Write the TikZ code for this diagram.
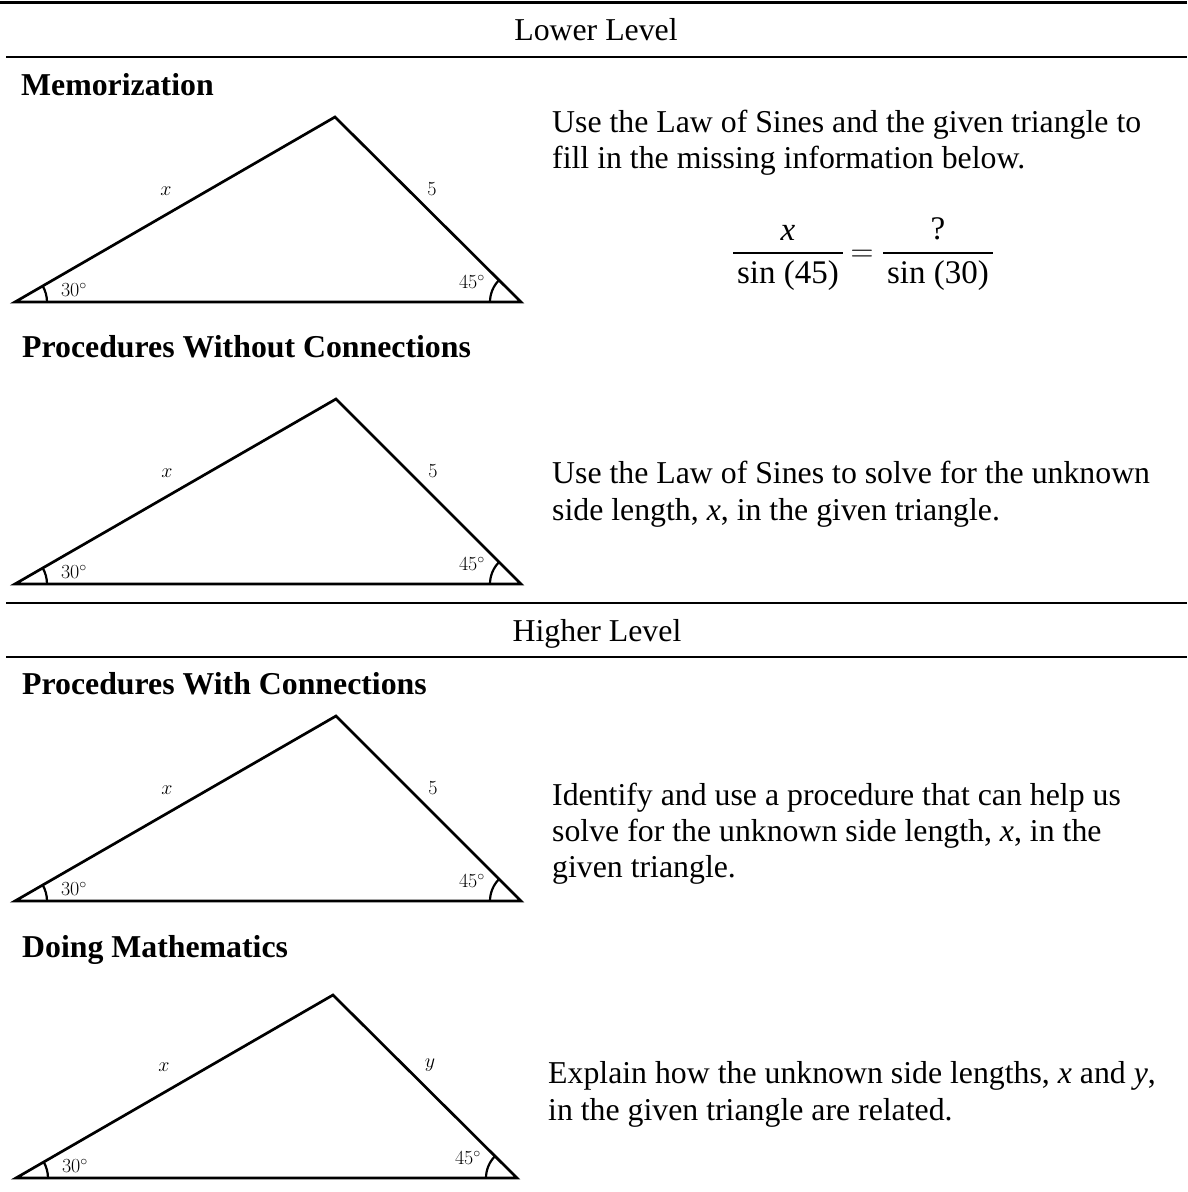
\RequirePackage{fix-cm}
\documentclass[tikz,border=0pt]{standalone}
\usepackage[no-math]{fontspec}
\setmainfont{Liberation Serif}
\usetikzlibrary{calc}

\newcommand{\bodysize}{\fontsize{31.8}{36.5}\selectfont}
\newcommand{\labelsize}{\fontsize{20}{24}\selectfont}
\newcommand{\mvar}[1]{\textit{#1}}

\tikzset{
  rule/.style={line width=2.5pt},
  side/.style={line width=2.7pt, line join=miter},
  anglearc/.style={line width=2.2pt},
  heading/.style={anchor=base west, inner sep=0pt, font=\bodysize\bfseries},
  level/.style={anchor=base, inner sep=0pt, font=\bodysize},
  prompt/.style={anchor=base west, inner sep=0pt, font=\bodysize},
  measure/.style={inner sep=0pt, font=\labelsize},
  fracpart/.style={anchor=base, inner sep=0pt, font=\fontsize{33}{38}\selectfont},
  fracbar/.style={line width=2pt},
}

% #1 name, #2 left x, #3 right x, #4 apex x, #5 apex y, #6 base y, #7 right-side label
\newcommand{\trianglefig}[7]{%
  \coordinate (#1L) at (#2,#6);
  \coordinate (#1R) at (#3,#6);
  \coordinate (#1A) at (#4,#5);
  \draw[side] (#1L) -- (#1R) -- (#1A) -- cycle;
  \draw[anglearc] ($(#1L)+(32,0)$) arc[start angle=0,end angle=30,radius=32pt];
  \draw[anglearc] ($(#1R)+(-31,0)$) arc[start angle=180,end angle=135,radius=31pt];
  \node[measure] (#1x) at (#4-169,#6-111) {$x$};
  \node[measure] (#1r) at (#4+97,#6-113) {$#7$};
  \node[measure] (#1a) at (#2+59,#6-12) {$30^\circ$};
  \node[measure] (#1b) at (#3-49,#6-20) {$45^\circ$};
}

\begin{document}
\begin{tikzpicture}[x=1pt,y=-1pt]
  \fill[white] (0,0) rectangle (1187,1192);
  \useasboundingbox (0,0) rectangle (1187,1192);

  % horizontal rules of the table
  \coordinate (r1a) at (0,2.7);    \coordinate (r1b) at (1187,2.7);
  \coordinate (r2a) at (6,57);     \coordinate (r2b) at (1187,57);
  \coordinate (r3a) at (6,603);    \coordinate (r3b) at (1187,603);
  \coordinate (r4a) at (6,657);    \coordinate (r4b) at (1187,657);
  \draw[rule] (r1a) -- (r1b);
  \draw[rule] (r2a) -- (r2b);
  \draw[rule] (r3a) -- (r3b);
  \draw[rule] (r4a) -- (r4b);

  \node[level] (lower) at (596,40.5) {Lower Level};
  \node[level] (higher) at (597,641) {Higher Level};

  % Memorization
  \node[heading] (h1) at (21,95) {Memorization};
  \trianglefig{t1}{15}{521}{335}{117}{302}{5}
  \node[prompt] (p1a) at (552,132) {Use the Law of Sines and the given triangle to};
  \node[prompt] (p1b) at (552,168) {fill in the missing information below.};
  \node[fracpart] (num1) at (788,240) {\itshape x};
  \node[fracpart] (den1) at (788,283) {sin (45)};
  \draw[fracbar] (733,253) -- (843,253);
  \node[anchor=base, inner sep=0pt, font=\bodysize] (eq) at (862,261) {$=$};
  \node[fracpart] (num2) at (938,239) {?};
  \node[fracpart] (den2) at (938,283) {sin (30)};
  \draw[fracbar] (883,253) -- (993,253);

  % Procedures Without Connections
  \node[heading] (h2) at (22,357) {Procedures Without Connections};
  \trianglefig{t2}{15}{521}{336}{399}{584}{5}
  \node[prompt] (p2a) at (552,483) {Use the Law of Sines to solve for the unknown};
  \node[prompt] (p2b) at (552,520) {side length, \mvar{x}, in the given triangle.};

  % Procedures With Connections
  \node[heading] (h3) at (22,694) {Procedures With Connections};
  \trianglefig{t3}{15}{521}{336}{716}{901}{5}
  \node[prompt] (p3a) at (552,805) {Identify and use a procedure that can help us};
  \node[prompt] (p3b) at (552,841) {solve for the unknown side length, \mvar{x}, in the};
  \node[prompt] (p3c) at (552,877) {given triangle.};

  % Doing Mathematics
  \node[heading] (h4) at (22,957) {Doing Mathematics};
  \trianglefig{t4}{16}{517}{333}{995}{1178}{y}
  \node[prompt] (p4a) at (548,1083) {Explain how the unknown side lengths, \mvar{x} and \mvar{y},};
  \node[prompt] (p4b) at (548,1120) {in the given triangle are related.};
\end{tikzpicture}
\end{document}
